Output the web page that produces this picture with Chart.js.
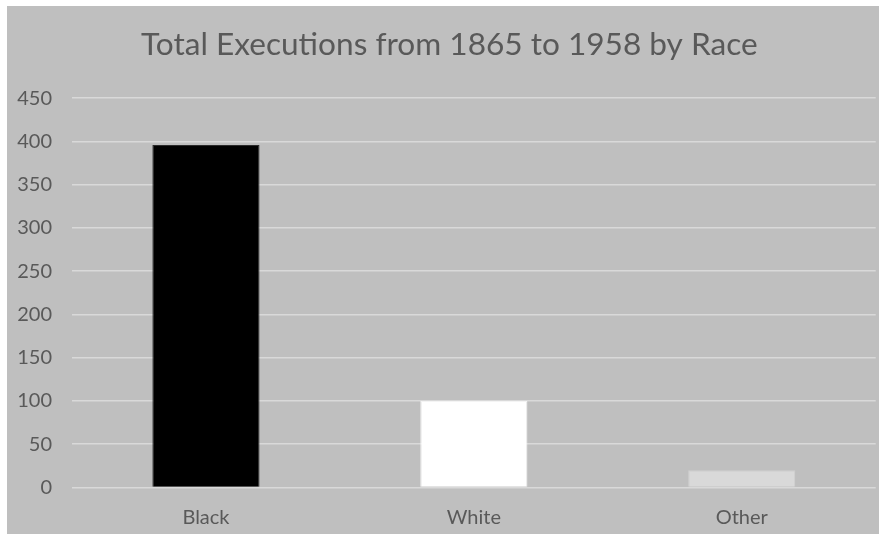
<!DOCTYPE html>
<html>
<head>
<meta charset="utf-8">
<script src="https://cdn.jsdelivr.net/npm/chart.js@4/dist/chart.umd.min.js"></script>
<style>
  html, body { margin: 0; padding: 0; background: #ffffff; }
  #wrap { position: absolute; left: 7px; top: 6px; width: 872px; height: 528px; background: #bfbfbf; }
  canvas { display: block; }
</style>
</head>
<body>
<div id="wrap"><canvas id="c" width="872" height="528"></canvas></div>
<script>
const titleText = 'Total Executions from 1865 to 1958 by Race';
const categories = ['Black', 'White', 'Other'];
const executions = [396, 100, 20];
const barColors = ['#000000', '#ffffff', '#d9d9d9'];
const barBorders = ['#2a2a2a', '#f4f4f4', '#cfcfcf'];
const yMin = 0, yMax = 450, yStep = 50;

const shiftTitle = {
  id: 'shiftTitle',
  afterLayout(chart) {
    if (chart.titleBlock) { chart.titleBlock.left += 16; }
  }
};

new Chart(document.getElementById('c'), {
  type: 'bar',
  data: {
    labels: categories,
    datasets: [{
      data: executions,
      backgroundColor: barColors,
      borderColor: barBorders,
      borderWidth: 1,
      categoryPercentage: 1,
      barPercentage: 0.4
    }]
  },
  plugins: [shiftTitle],
  options: {
    responsive: false,
    animation: false,
    layout: { padding: { left: 0, right: 3.3, top: 0, bottom: 4 } },
    plugins: {
      legend: { display: false },
      tooltip: { enabled: false },
      title: {
        display: true,
        text: titleText,
        color: '#595959',
        font: { family: 'Lato', size: 31.6, weight: 'normal', lineHeight: 1.2 },
        padding: { top: 19.5, bottom: 34.8 }
      }
    },
    scales: {
      x: {
        afterFit: (s) => { s.height = 42.5; },
        grid: { display: false, drawTicks: false },
        border: { display: false },
        ticks: { color: '#595959', font: { family: 'Lato', size: 20, lineHeight: 1.2 }, padding: 18.5 }
      },
      y: {
        min: yMin, max: yMax,
        afterFit: (s) => { s.width = 65; },
        grid: { color: '#d9d9d9', lineWidth: 1.5, drawTicks: false },
        border: { display: false },
        ticks: { stepSize: yStep, color: '#595959', font: { family: 'Lato', size: 20, lineHeight: 1.2 }, padding: 20 }
      }
    }
  }
});
</script>
</body>
</html>
